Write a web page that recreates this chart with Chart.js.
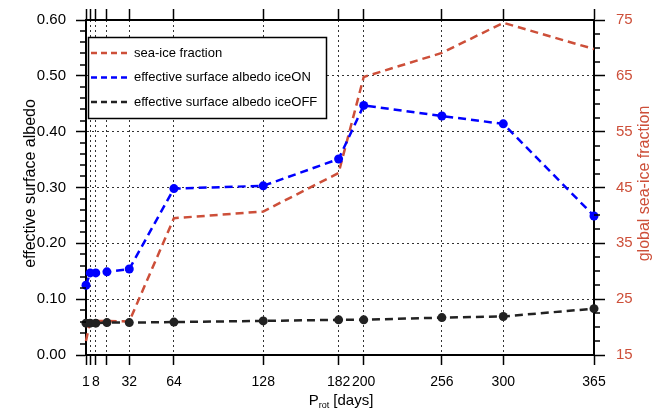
<!DOCTYPE html>
<html>
<head>
<meta charset="utf-8">
<script src="https://cdn.jsdelivr.net/npm/chart.js@4.4.0/dist/chart.umd.min.js"></script>
<style>
  html, body { margin: 0; padding: 0; background: #fff; }
  canvas { display: block; }
</style>
</head>
<body>
<canvas id="albedo-chart" width="656" height="414"></canvas>
<script>
// Rotation periods (days) of the runs, also used as the x tick positions.
const PROT_DAYS = [1, 4, 8, 16, 32, 64, 128, 182, 200, 256, 300, 365];
const X_TICK_LABELS = ['1', '', '8', '', '32', '64', '128', '182', '200', '256', '300', '365'];

// Global sea-ice fraction in %, goes on the right axis.
const SEA_ICE_FRACTION = [17.5, 21.1, 21.1, 21.1, 21.0, 39.5, 40.7, 47.6, 64.8, 69.1, 74.5, 69.8];
// Effective surface albedo with and without sea ice.
const ALBEDO_ICE_ON = [0.125, 0.147, 0.147, 0.149, 0.154, 0.298, 0.303, 0.351, 0.447, 0.428, 0.414, 0.249];
const ALBEDO_ICE_OFF = [0.057, 0.057, 0.057, 0.058, 0.058, 0.059, 0.061, 0.063, 0.063, 0.067, 0.069, 0.083];

const RED = '#cd4f39';
const BLUE = '#0000ff';
const DARK = '#222222';
const FONT = '"Liberation Sans", Arial, Helvetica, sans-serif';

Chart.defaults.font.family = FONT;
Chart.defaults.color = '#000';

function points(values) {
  return PROT_DAYS.map((d, i) => ({ x: d, y: values[i] }));
}

function setDayTicks(scale) {
  scale.ticks = PROT_DAYS.map((d) => ({ value: d }));
}

// Minor ticks, axis titles and the boxed legend are drawn by hand.
const extras = {
  id: 'extras',
  afterDraw(chart) {
    const ctx = chart.ctx;
    const area = chart.chartArea;
    const yl = chart.scales.y;
    const yr = chart.scales.y1;
    ctx.save();

    ctx.strokeStyle = '#000';
    ctx.lineWidth = 1.5;
    ctx.beginPath();
    for (let i = 0; i <= 30; i++) {
      if (i % 5 === 0) continue;
      const py = Math.round(yl.getPixelForValue(i * 0.02));
      ctx.moveTo(area.left - 6, py);
      ctx.lineTo(area.left, py);
    }
    for (let i = 0; i <= 24; i++) {
      if (i % 4 === 0) continue;
      const py = Math.round(yr.getPixelForValue(15 + i * 2.5));
      ctx.moveTo(area.right, py);
      ctx.lineTo(area.right + 6, py);
    }
    ctx.stroke();

    // y titles, both reading bottom to top
    const midY = (area.top + area.bottom) / 2 - 4;
    ctx.font = '16px ' + FONT;
    ctx.textAlign = 'center';
    ctx.textBaseline = 'middle';
    ctx.fillStyle = '#000';
    ctx.save();
    ctx.translate(31, midY);
    ctx.rotate(-Math.PI / 2);
    ctx.fillText('effective surface albedo', 0, 0);
    ctx.restore();
    ctx.save();
    ctx.fillStyle = RED;
    ctx.translate(645, midY);
    ctx.rotate(-Math.PI / 2);
    ctx.fillText('global sea-ice fraction', 0, 0);
    ctx.restore();

    // x title with subscript
    ctx.textAlign = 'left';
    ctx.textBaseline = 'alphabetic';
    const big = '15px ' + FONT;
    const small = '9px ' + FONT;
    ctx.font = big;
    const wP = ctx.measureText('P').width;
    const wRest = ctx.measureText(' [days]').width;
    ctx.font = small;
    const wSub = ctx.measureText('rot').width;
    let tx = 341 - (wP + wSub + wRest) / 2;
    const base = 405;
    ctx.font = big;
    ctx.fillText('P', tx, base);
    tx += wP;
    ctx.font = small;
    ctx.fillText('rot', tx, base + 3);
    tx += wSub;
    ctx.font = big;
    ctx.fillText(' [days]', tx, base);

    // legend box
    const lx = 88, ly = 37, lw = 238, lh = 81;
    ctx.fillStyle = '#fff';
    ctx.fillRect(lx, ly, lw, lh);
    ctx.strokeStyle = '#000';
    ctx.lineWidth = 1.5;
    ctx.strokeRect(lx + 0.5, ly + 0.5, lw, lh);
    ctx.font = '13px ' + FONT;
    ctx.textBaseline = 'middle';
    chart.data.datasets.forEach((ds, i) => {
      const rowY = 53 + i * 24.5;
      ctx.strokeStyle = ds.borderColor;
      ctx.lineWidth = 2.5;
      ctx.setLineDash([6, 4]);
      ctx.beginPath();
      ctx.moveTo(91, rowY);
      ctx.lineTo(128, rowY);
      ctx.stroke();
      ctx.setLineDash([]);
      ctx.fillStyle = '#000';
      ctx.fillText(ds.label, 134, rowY);
    });

    ctx.restore();
  }
};

const ctx = document.getElementById('albedo-chart');
new Chart(ctx, {
  type: 'line',
  data: {
    datasets: [
      {
        label: 'sea-ice fraction',
        data: points(SEA_ICE_FRACTION),
        yAxisID: 'y1',
        borderColor: RED,
        backgroundColor: RED,
        borderWidth: 2.5,
        borderDash: [8, 5],
        pointRadius: 0,
        order: 3,
        clip: false
      },
      {
        label: 'effective surface albedo iceON',
        data: points(ALBEDO_ICE_ON),
        yAxisID: 'y',
        borderColor: BLUE,
        backgroundColor: BLUE,
        borderWidth: 2.5,
        borderDash: [8, 5],
        pointRadius: 4.5,
        pointBorderWidth: 0,
        order: 2,
        clip: false
      },
      {
        label: 'effective surface albedo iceOFF',
        data: points(ALBEDO_ICE_OFF),
        yAxisID: 'y',
        borderColor: DARK,
        backgroundColor: DARK,
        borderWidth: 2.5,
        borderDash: [8, 5],
        pointRadius: 4.5,
        pointBorderWidth: 0,
        order: 1,
        clip: false
      }
    ]
  },
  options: {
    responsive: false,
    animation: false,
    devicePixelRatio: 1,
    layout: { padding: 0 },
    plugins: { legend: { display: false }, tooltip: { enabled: false } },
    scales: {
      x: {
        type: 'linear',
        position: 'bottom',
        min: 1,
        max: 365,
        bounds: 'data',
        afterBuildTicks: setDayTicks,
        afterFit: (scale) => { scale.height = 59; },
        ticks: {
          autoSkip: false,
          maxRotation: 0,
          padding: 9,
          font: { size: 14 },
          callback: (value, index) => X_TICK_LABELS[index]
        },
        grid: { color: '#333', lineWidth: 1, tickLength: 10, tickColor: '#000', tickWidth: 1.5 },
        border: { color: '#000', width: 2, dash: [2, 3] }
      },
      x2: {
        type: 'linear',
        axis: 'x',
        position: 'top',
        min: 1,
        max: 365,
        bounds: 'data',
        afterBuildTicks: setDayTicks,
        afterFit: (scale) => { scale.height = 17; },
        ticks: { autoSkip: false, maxRotation: 0, callback: () => '' },
        grid: { drawOnChartArea: false, tickLength: 11, tickColor: '#000', tickWidth: 1.5 },
        border: { color: '#000', width: 2 }
      },
      y: {
        position: 'left',
        min: 0,
        max: 0.6,
        afterFit: (scale) => { scale.width = 86; },
        ticks: {
          stepSize: 0.1,
          padding: 10,
          font: { size: 15 },
          callback: (value) => value.toFixed(2)
        },
        grid: { color: '#333', lineWidth: 1, tickLength: 10, tickColor: '#000', tickWidth: 1.5 },
        border: { color: '#000', width: 2, dash: [2, 3] }
      },
      y1: {
        position: 'right',
        min: 15,
        max: 75,
        afterFit: (scale) => { scale.width = 62; },
        ticks: {
          stepSize: 10,
          padding: 11,
          color: RED,
          font: { size: 15 }
        },
        grid: { drawOnChartArea: false, tickLength: 11, tickColor: '#000', tickWidth: 1.5 },
        border: { color: '#000', width: 2 }
      }
    }
  },
  plugins: [extras]
});
</script>
</body>
</html>
